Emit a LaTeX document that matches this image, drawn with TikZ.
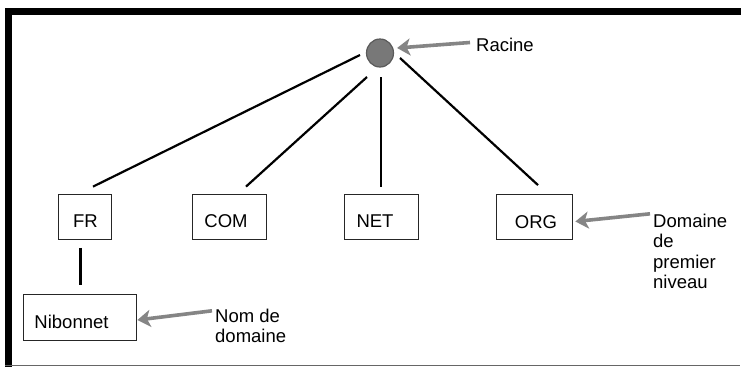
\documentclass[tikz,border=0pt]{standalone}
\usepackage{fontspec}
\setmainfont{Liberation Sans}
\usetikzlibrary{arrows.meta,shapes.geometric}
\definecolor{arrgray}{HTML}{858585}
\definecolor{rootfill}{HTML}{787878}
\definecolor{rootdraw}{HTML}{5A5A5A}
\begin{document}
\begin{tikzpicture}[x=1pt,y=-1pt,
  lbl/.style={font=\fontsize{18.5}{20.3}\selectfont, inner sep=0pt, align=left},
  boxnode/.style={draw=black!85, line width=0.8pt, inner sep=0pt,
    font=\fontsize{18.5}{20.3}\selectfont, text height=24pt, text depth=1.8pt},
  conn/.style={line width=2.2pt, black},
  arr/.style={draw=arrgray, line width=3.6pt,
    -{Stealth[length=13pt,width=17pt,inset=3.5pt]}},
]
\useasboundingbox (0,0) rectangle (741,367);
\fill[white] (0,0) rectangle (741,367);
% frame
\fill[black] (5,8) rectangle (741,14.5);
\fill[black] (5,8) rectangle (11.5,367);
\draw[black!60, line width=1.2pt] (5,365.6) -- (740,365.6);
% nodes
\node[ellipse, minimum width=27pt, minimum height=28pt, inner sep=0pt, fill=rootfill, draw=rootdraw, line width=1.2pt] (root) at (380,53) {};
\node[boxnode, minimum width=53pt, minimum height=45pt] (fr) at (84.5,216.5) {FR\hspace*{-2pt}};
\node[boxnode, minimum width=74pt, minimum height=45pt] (com) at (229,216.5) {COM\hspace*{6pt}};
\node[boxnode, minimum width=74pt, minimum height=45pt] (net) at (381,216.5) {NET\hspace*{12pt}};
\node[boxnode, minimum width=76pt, minimum height=45pt] (org) at (534,217) {\hspace*{4pt}ORG};
\node[boxnode, minimum width=113pt, minimum height=46pt] (nib) at (79.5,317) {Nibonnet\hspace*{16pt}};
\node[lbl, anchor=base west] (racine) at (476,51.5) {Racine};
\node[lbl, anchor=north west] (dom) at (653,213.8) {Domaine\\de\\premier\\niveau};
\node[lbl, anchor=north west] (nom) at (215,308.8) {Nom de\\domaine};
% connectors
\draw[conn] ([shift={(-20,2)}]root.center) -- ([shift={(8.5,-7)}]fr.north);
\draw[conn] ([shift={(-13,24)}]root.center) -- ([shift={(17,-7)}]com.north);
\draw[conn] ([shift={(1,24)}]root.center) -- ([shift={(0,-7)}]net.north);
\draw[conn] ([shift={(20,5)}]root.center) -- ([shift={(4,-9)}]org.north);
\draw[conn] ([shift={(-4,8.5)}]fr.south) -- ([shift={(1,-9)}]nib.north);
% arrows
\draw[arr] ([shift={(-6,-2.4)}]racine.west) -- ([shift={(3,-5)}]root.east);
\draw[arr] ([shift={(-3,0)}]dom.north west) -- ([shift={(3,4.5)}]org.east);
\draw[arr] ([shift={(-3,2)}]nom.north west) -- ([shift={(1,3)}]nib.east);
\end{tikzpicture}
\end{document}
